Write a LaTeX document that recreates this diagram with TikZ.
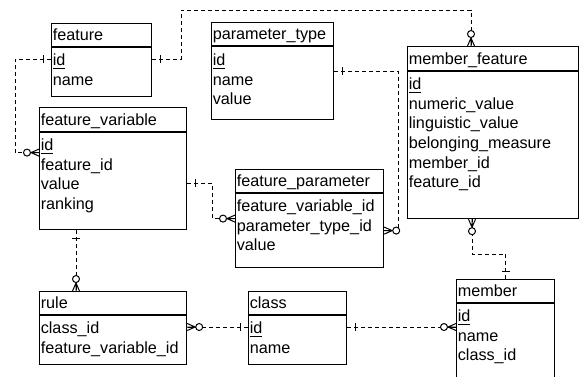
\documentclass[tikz,border=0pt]{standalone}
\usepackage{fontspec}
\setmainfont{Liberation Sans}
\usetikzlibrary{decorations.markings}

\begin{document}
\begin{tikzpicture}
  [x=.5pt,y=-.5pt,
   table/.style={draw,line width=.6pt,anchor=north west,inner sep=0pt},
   field/.style={anchor=west,inner xsep=.7pt,inner ysep=0pt,text height=6pt,text depth=0pt,
     font=\fontsize{8.1}{9.8}\selectfont},
   rel/.style={dash pattern=on 2pt off 1.5pt,line width=.5pt,
     decoration={markings,
       mark=at position 4pt with {\draw[solid] (0,-2pt) -- (0,2pt);},
       mark=at position 1 with {\draw[solid] (-4pt,0) -- (0,1.75pt) (-4pt,0) -- (0,-1.75pt) (-4pt,0) -- (0,0);
         \draw[solid,fill=white] (-6pt,0) circle (1.75pt);}},
     postaction=decorate}]
  \clip (0,0) rectangle (579,376);

  % feature
  \node[table,minimum width=50pt,minimum height=36.5pt] (feature) at (51,23) {};
  \draw[line width=.6pt] ([yshift=-12pt]feature.north west) -- ([yshift=-12pt]feature.north east);
  \node[field] (feature-title) at (51,34.5) {feature};
  \node[field] (feature-id) at (51,59) {\underline{id}};
  \node[field] (feature-name) at (51,79) {name};

  % parameter_type
  \node[table,minimum width=61pt,minimum height=48.5pt] (ptype) at (211,22) {};
  \draw[line width=.6pt] ([yshift=-12pt]ptype.north west) -- ([yshift=-12pt]ptype.north east);
  \node[field] (ptype-title) at (211,33.5) {parameter\_type};
  \node[field] (ptype-id) at (211,59) {\underline{id}};
  \node[field] (ptype-name) at (211,79) {name};
  \node[field] (ptype-value) at (211,98) {value};

  % member_feature
  \node[table,minimum width=85.5pt,minimum height=86pt] (mfeat) at (407,46) {};
  \draw[line width=.6pt] ([yshift=-12.5pt]mfeat.north west) -- ([yshift=-12.5pt]mfeat.north east);
  \node[field] (mfeat-title) at (407,58) {member\_feature};
  \node[field] (mfeat-id) at (407,83) {\underline{id}};
  \node[field] (mfeat-num) at (407,103) {numeric\_value};
  \node[field] (mfeat-ling) at (407,122) {linguistic\_value};
  \node[field] (mfeat-bel) at (407,142) {belonging\_measure};
  \node[field] (mfeat-mid) at (407,162) {member\_id};
  \node[field] (mfeat-fid) at (407,181) {feature\_id};

  % feature_variable
  \node[table,minimum width=73.5pt,minimum height=61pt] (fvar) at (39,107) {};
  \draw[line width=.6pt] ([yshift=-12.5pt]fvar.north west) -- ([yshift=-12.5pt]fvar.north east);
  \node[field] (fvar-title) at (39,119) {feature\_variable};
  \node[field] (fvar-id) at (39,144) {\underline{id}};
  \node[field] (fvar-fid) at (39,164) {feature\_id};
  \node[field] (fvar-value) at (39,183) {value};
  \node[field] (fvar-rank) at (39,203) {ranking};

  % feature_parameter
  \node[table,minimum width=74pt,minimum height=49pt] (fparam) at (235,169) {};
  \draw[line width=.6pt] ([yshift=-12pt]fparam.north west) -- ([yshift=-12pt]fparam.north east);
  \node[field] (fparam-title) at (235,180.5) {feature\_parameter};
  \node[field] (fparam-fvid) at (235,205) {feature\_variable\_id};
  \node[field] (fparam-ptid) at (235,225) {parameter\_type\_id};
  \node[field] (fparam-value) at (235,244) {value};

  % rule
  \node[table,minimum width=73.5pt,minimum height=36.5pt] (rule) at (39,291) {};
  \draw[line width=.6pt] ([yshift=-12pt]rule.north west) -- ([yshift=-12pt]rule.north east);
  \node[field] (rule-title) at (39,302.5) {rule};
  \node[field] (rule-cid) at (39,327) {class\_id};
  \node[field] (rule-fvid) at (39,347) {feature\_variable\_id};

  % class
  \node[table,minimum width=49pt,minimum height=36.5pt] (class) at (248,291) {};
  \draw[line width=.6pt] ([yshift=-12pt]class.north west) -- ([yshift=-12pt]class.north east);
  \node[field] (class-title) at (248,302.5) {class};
  \node[field] (class-id) at (248,327) {\underline{id}};
  \node[field] (class-name) at (248,347) {name};

  % member
  \node[table,minimum width=49pt,minimum height=65pt] (member) at (456,279) {};
  \draw[line width=.6pt] ([yshift=-12pt]member.north west) -- ([yshift=-12pt]member.north east);
  \node[field] (member-title) at (456,290.5) {member};
  \node[field] (member-id) at (456,315) {\underline{id}};
  \node[field] (member-name) at (456,335) {name};
  \node[field] (member-cid) at (456,354) {class\_id};

  % relations
  \draw[rel] (feature-id.west) -- ++(-36,0) |- ([yshift=8pt]fvar.west);
  \draw[rel] (feature-id.west -| feature.east) -- ++(29,0) -- ++(0,-49) -| ([xshift=32pt]mfeat.north west);
  \draw[rel] ([yshift=-24.5pt]ptype.north east) -- ++(64,0) |- ([yshift=-6pt]fparam.east);
  \draw[rel] (fvar-value.west -| fvar.east) -- ++(25,0) |- (fparam.west);
  \draw[rel] ([xshift=18.5pt]fvar.south west) -- ([xshift=18.5pt]rule.north west);
  \draw[rel] (class-id.west) -- (class-id.west -| rule.east);
  \draw[rel] (class-id.west -| class.east) -- (class-id.west -| member.west);
  \draw[rel] (member.north) -- ++(0,-25) -| ([xshift=32.5pt]mfeat.south west);
\end{tikzpicture}
\end{document}
